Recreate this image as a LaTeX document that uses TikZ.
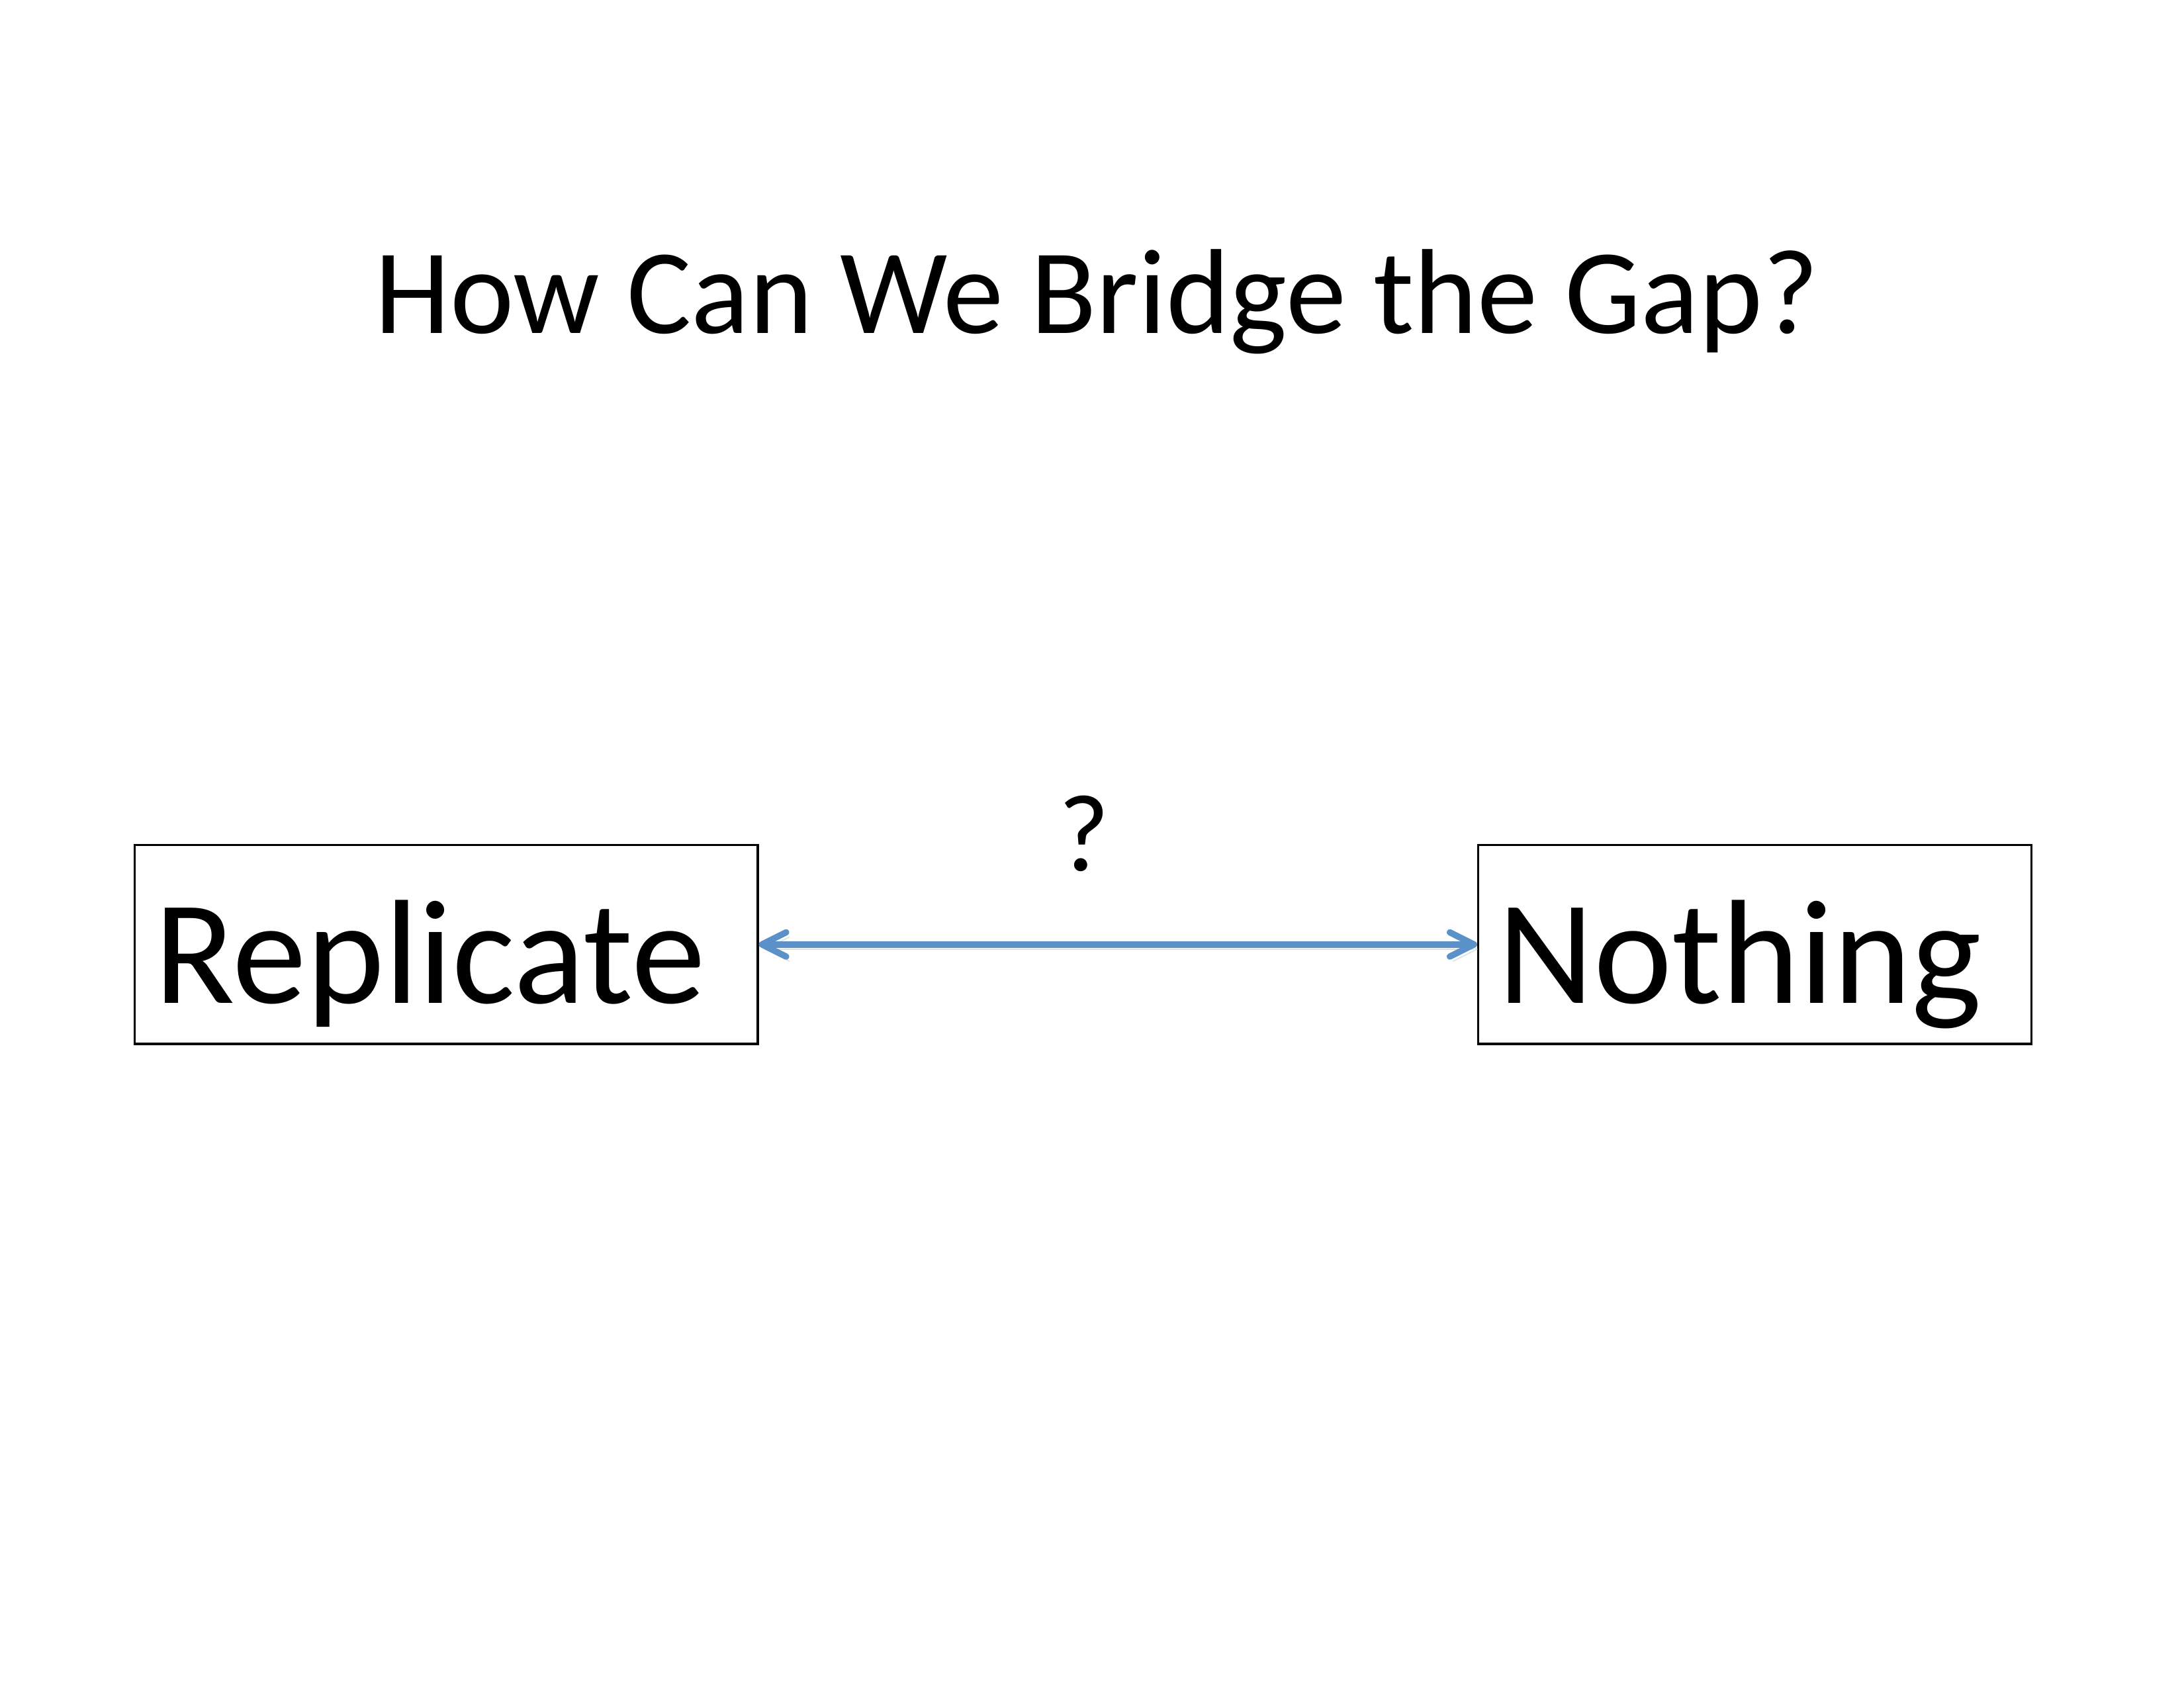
\documentclass[tikz,border=0pt]{standalone}
\usepackage{fontspec}
\setmainfont{Carlito}
\usetikzlibrary{arrows.meta}
\usetikzlibrary{shapes}

\definecolor{gapblue}{RGB}{91,145,201}

\begin{document}
\begin{tikzpicture}
  \useasboundingbox (0,0) rectangle (279.4mm,215.9mm);

%% title
  \node[anchor=base] (title) at (140.3mm,173.3mm) {\fontsize{44}{53}\selectfont How Can We Bridge the Gap?};

%% the two ends
  \tikzstyle{endbox}=[rectangle,draw,line width=0.75pt,inner xsep=2.54mm,inner ysep=0pt,
                      text height=20.2mm,text depth=5.25mm,align=left,
                      font=\fontsize{54}{65}\selectfont]
  \node[endbox,text width=74.6mm] (replicate) at ( 57.1mm,95.1mm) {Replicate};
  \node[endbox,text width=65.7mm] (nothing)   at (224.5mm,95.1mm) {Nothing};

%% the gap
  \tikzstyle{gap}=[gapblue,line width=2.3pt,
                   {Straight Barb[length=3.1mm,width=3.1mm,round]}-{Straight Barb[length=3.1mm,width=3.1mm,round]},
                   preaction={draw=black!20,opacity=0.6,transform canvas={shift={(0.4mm,-0.6mm)}}}]
  \draw[gap] (replicate.east) -- (nothing.west);
  \node[anchor=base] (ask) at (138.7mm,104.5mm) {\fontsize{40}{48}\selectfont ?};
\end{tikzpicture}
\end{document}
